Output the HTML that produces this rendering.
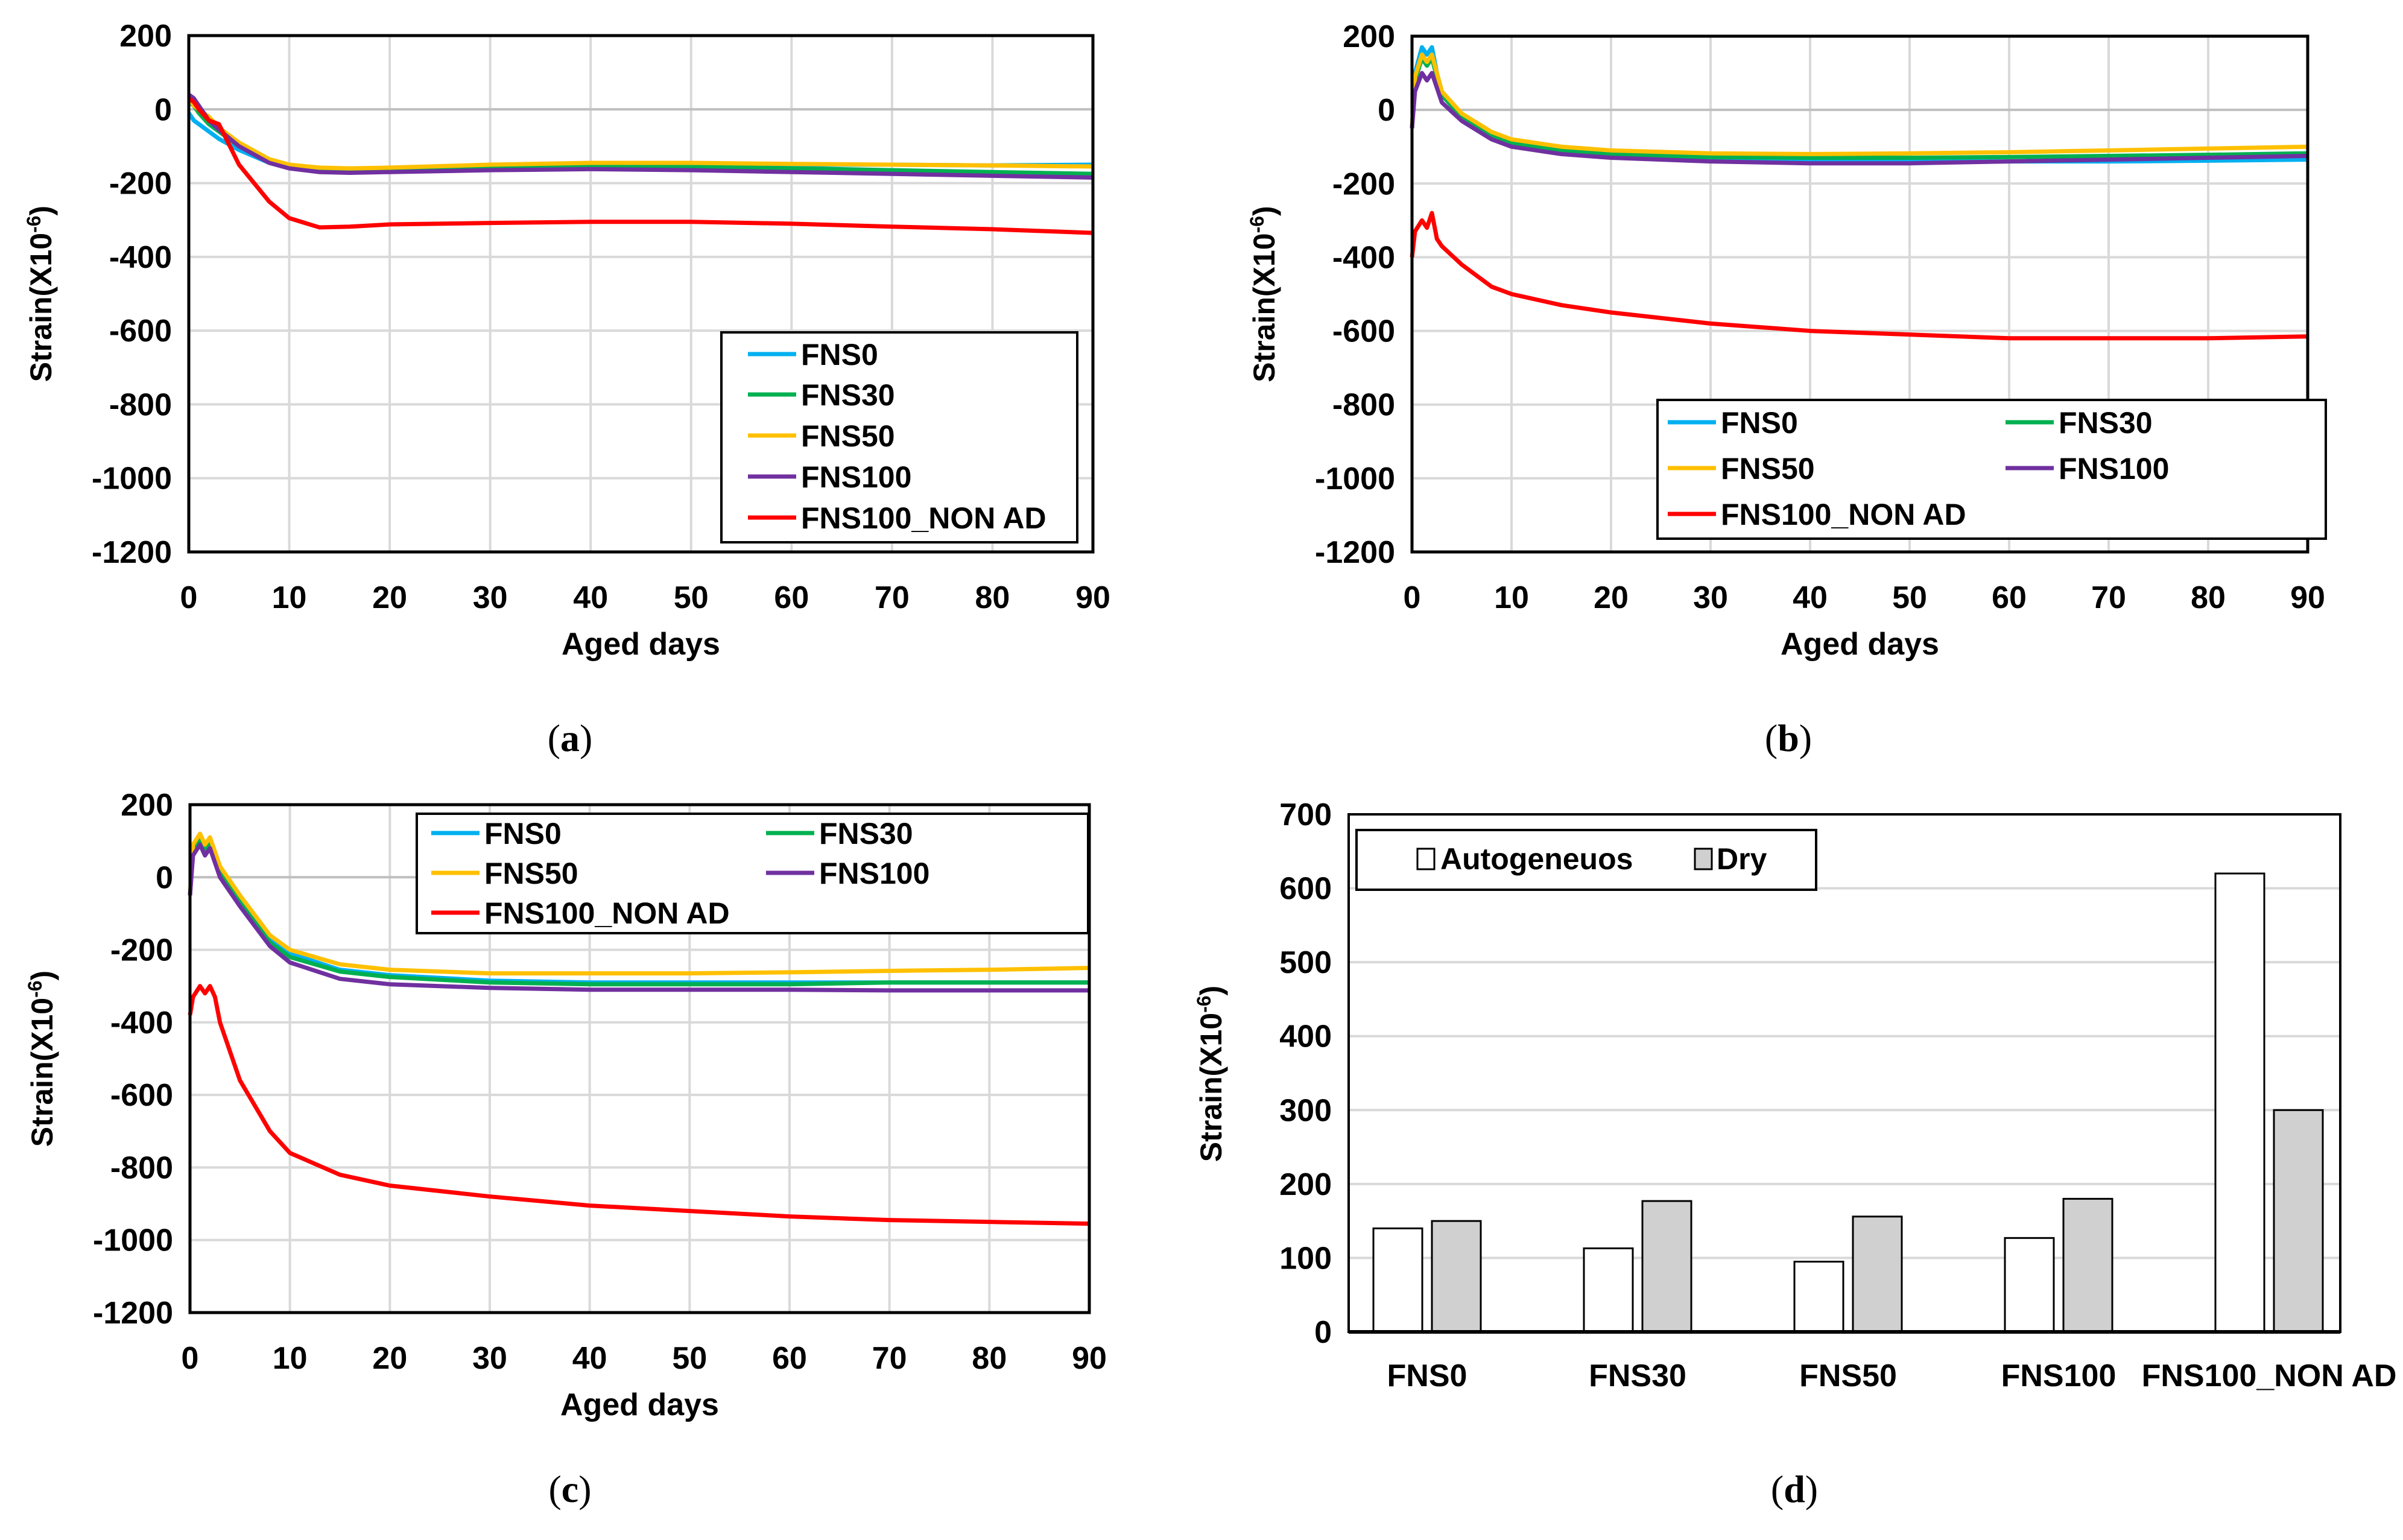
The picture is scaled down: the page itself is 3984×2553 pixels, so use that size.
<!DOCTYPE html>
<html><head><meta charset="utf-8"><style>
html,body{margin:0;padding:0;background:#fff;}
svg{display:block;font-family:"Liberation Sans",sans-serif;}
.tick{font-size:52px;font-weight:bold;fill:#000;}
.ttl{font-size:52px;font-weight:bold;fill:#000;}
.ytl{font-size:50px;font-weight:bold;fill:#000;}
.leg{font-size:50px;font-weight:bold;fill:#000;}
.cap{font-family:"Liberation Serif",serif;font-size:64px;fill:#000;}
</style></head><body>
<svg id="root" width="3984" height="2553" viewBox="0 0 3984 2553" xmlns="http://www.w3.org/2000/svg"></svg>
<script>
// ---- data ----
const seriesNames = ["FNS0","FNS30","FNS50","FNS100","FNS100_NON AD"];
const seriesColors = ["#00b0f0","#00b050","#ffc000","#7030a0","#ff0000"];
const xTicks = [0,10,20,30,40,50,60,70,80,90];
const yTicksLine = [200,0,-200,-400,-600,-800,-1000,-1200];

const daysA = [0,0.5,1,2,3,5,8,10,13,16,20,30,40,50,60,70,80,90];
const aFNS0 = [-10,-30,-40,-60,-80,-110,-145,-155,-160,-160,-160,-155,-150,-150,-150,-150,-152,-150];
const aFNS30 = [20,10,-10,-40,-60,-100,-140,-155,-165,-168,-165,-160,-155,-155,-160,-165,-170,-175];
const aFNS50 = [30,10,0,-20,-50,-90,-135,-150,-158,-160,-158,-150,-145,-145,-148,-150,-152,-155];
const aFNS100 = [40,30,10,-30,-55,-100,-145,-160,-170,-172,-170,-165,-162,-165,-170,-175,-180,-185];
const aNONAD = [30,20,0,-30,-40,-150,-250,-295,-320,-318,-312,-308,-305,-305,-310,-318,-325,-335];

const daysB = [0,0.3,1,1.5,2,2.5,3,5,8,10,15,20,30,40,50,60,70,80,90];
const bFNS0 = [-50,100,170,150,170,100,50,-20,-70,-90,-115,-125,-135,-140,-140,-140,-140,-138,-135];
const bFNS30 = [-50,80,140,120,140,90,40,-20,-70,-90,-110,-120,-128,-130,-130,-128,-125,-122,-118];
const bFNS50 = [-50,90,150,130,150,100,50,-10,-60,-80,-100,-110,-118,-120,-118,-115,-110,-105,-100];
const bFNS100 = [-50,50,100,80,100,60,20,-30,-80,-100,-120,-130,-140,-145,-145,-140,-135,-130,-125];
const bNONAD = [-400,-330,-300,-320,-280,-350,-370,-420,-480,-500,-530,-550,-580,-600,-610,-620,-620,-620,-615];

const daysC = [0,0.3,1,1.5,2,2.5,3,5,8,10,15,20,30,40,50,60,70,80,90];
const cFNS0 = [-50,80,110,80,100,60,20,-60,-170,-210,-255,-270,-285,-290,-290,-290,-290,-290,-290];
const cFNS30 = [-50,70,100,70,90,50,10,-70,-180,-220,-260,-275,-290,-295,-295,-295,-290,-290,-290];
const cFNS50 = [-50,90,120,90,110,70,30,-50,-160,-200,-240,-255,-265,-265,-265,-262,-258,-255,-250];
const cFNS100 = [-50,60,90,60,80,40,0,-80,-190,-235,-280,-295,-305,-310,-310,-310,-312,-312,-312];
const cNONAD = [-380,-330,-300,-320,-300,-330,-400,-560,-700,-760,-820,-850,-880,-905,-920,-935,-945,-950,-955];

const barCategories = ["FNS0","FNS30","FNS50","FNS100","FNS100_NON AD"];
const barAuto = [140,113,95,127,620];
const barDry = [150,177,156,180,300];
const yTicksBar = [0,100,200,300,400,500,600,700];

// ---- helpers ----
const NS="http://www.w3.org/2000/svg";
const root=document.getElementById('root');
function mk(tag,attrs,parent,text){const e=document.createElementNS(NS,tag);for(const k in attrs)e.setAttribute(k,attrs[k]);if(text!==undefined)e.textContent=text;(parent||root).appendChild(e);return e;}

function lineChart(id,box,days,series,legend,cap){
  const g=mk('g',{});
  
  
  const X=v=>box.x0+(v-0)/90*(box.x1-box.x0);
  const Y=v=>box.y0+(200-v)/1400*(box.y1-box.y0);
  xTicks.forEach(t=>{ if(t>0&&t<90){const l=mk('line',{x1:X(t),x2:X(t),y1:box.y0,y2:box.y1,stroke:'#d9d9d9','stroke-width':4},g);
    }});
  yTicksLine.forEach(t=>{ if(t<200&&t>-1200){const l=mk('line',{x1:box.x0,x2:box.x1,y1:Y(t),y2:Y(t),stroke:t===0?'#bfbfbf':'#d9d9d9','stroke-width':4},g);
    }});
  series.forEach((s,i)=>{
    const p=mk('polyline',{points:days.map((d,j)=>X(d)+','+Y(s[j])).join(' '),fill:'none',stroke:seriesColors[i],'stroke-width':7,'stroke-linejoin':'round'},g);
    
    
  });
  const fr=mk('rect',{x:box.x0,y:box.y0,width:box.x1-box.x0,height:box.y1-box.y0,fill:'none',stroke:'#000','stroke-width':5},g);
  
  yTicksLine.forEach(t=>{const e=mk('text',{x:box.x0-28,y:Y(t)+18,'text-anchor':'end',class:'tick'},g,String(t));
    });
  xTicks.forEach(t=>{const e=mk('text',{x:X(t),y:box.y1+93,'text-anchor':'middle',class:'tick'},g,String(t));
    });
  const xt=mk('text',{x:(box.x0+box.x1)/2,y:box.y1+170,'text-anchor':'middle',class:'ttl'},g,'Aged days');
  
  const yc=(box.y0+box.y1)/2;
  const yt=mk('text',{x:0,y:0,'text-anchor':'middle',class:'ytl',transform:`translate(${box.x0-228},${yc}) rotate(-90)`},g);
  
  yt.textContent='Strain(X10';
  mk('tspan',{dy:-18,'font-size':32},yt,'-6');
  mk('tspan',{dy:18},yt,')');
  // legend
  const lg=mk('g',{},g);
  
  mk('rect',{x:legend.x,y:legend.y,width:legend.w,height:legend.h,fill:'#fff',stroke:'#000','stroke-width':4},lg);
  legend.items.forEach((it,i)=>{
    const eg=mk('g',{},lg);
    
    mk('line',{x1:it[0],x2:it[0]+80,y1:it[1],y2:it[1],stroke:seriesColors[i],'stroke-width':7},eg);
    mk('text',{x:it[0]+88,y:it[1]+18,class:'leg'},eg,seriesNames[i]);
  });
  const c=mk('text',{x:cap.x,y:cap.y,'text-anchor':'middle',class:'cap'},g,'');
  
  c.textContent='('; mk('tspan',{'font-weight':'bold'},c,cap.t); mk('tspan',{},c,')');
}

lineChart('a',{x0:313,x1:1812,y0:59,y1:915},daysA,[aFNS0,aFNS30,aFNS50,aFNS100,aNONAD],
 {x:1196,y:551,w:590,h:348,items:[[1240,587],[1240,654],[1240,722],[1240,790],[1240,858]]},{x:945,y:1245,t:'a'});
lineChart('b',{x0:2341,x1:3826,y0:60,y1:915},daysB,[bFNS0,bFNS30,bFNS50,bFNS100,bNONAD],
 {x:2748,y:663,w:1108,h:230,items:[[2765,700],[3325,700],[2765,776],[3325,776],[2765,852]]},{x:2965,y:1245,t:'b'});
lineChart('c',{x0:315,x1:1806,y0:1334,y1:2176},daysC,[cFNS0,cFNS30,cFNS50,cFNS100,cNONAD],
 {x:691,y:1349,w:1113,h:198,items:[[715,1381],[1270,1381],[715,1447],[1270,1447],[715,1513]]},{x:945,y:2490,t:'c'});

// ---- bar chart ----
(function(){
  const box={x0:2236,x1:3880,y0:1350,y1:2208};
  const g=mk('g',{});
  
  const Y=v=>box.y1-v/700*(box.y1-box.y0);
  const center=i=>2366+i*349;
  const bw=81, gap=16;
  yTicksBar.forEach(t=>{ if(t>0&&t<700){const l=mk('line',{x1:box.x0,x2:box.x1,y1:Y(t),y2:Y(t),stroke:'#d9d9d9','stroke-width':4},g);
    }});
  barCategories.forEach((c,i)=>{
    const a=mk('rect',{x:center(i)-gap/2-bw,y:Y(barAuto[i]),width:bw,height:Y(0)-Y(barAuto[i]),fill:'#fff',stroke:'#000','stroke-width':3},g);
    
    const d=mk('rect',{x:center(i)+gap/2,y:Y(barDry[i]),width:bw,height:Y(0)-Y(barDry[i]),fill:'#d0d0d0',stroke:'#000','stroke-width':3},g);
    
    const t=mk('text',{x:center(i),y:box.y1+90,'text-anchor':'middle',class:'tick','font-size':48},g,c);
    
  });
  const fr=mk('rect',{x:box.x0,y:box.y0,width:box.x1-box.x0,height:box.y1-box.y0,fill:'none',stroke:'#000','stroke-width':4},g);
  
  mk('line',{x1:box.x0,x2:box.x1,y1:box.y1,y2:box.y1,stroke:'#000','stroke-width':6},g);
  yTicksBar.forEach(t=>{const e=mk('text',{x:box.x0-28,y:Y(t)+18,'text-anchor':'end',class:'tick'},g,String(t));
    });
  const yt=mk('text',{x:0,y:0,'text-anchor':'middle',class:'ytl',transform:`translate(2025,1780) rotate(-90)`},g);
  
  yt.textContent='Strain(X10'; mk('tspan',{dy:-18,'font-size':32},yt,'-6'); mk('tspan',{dy:18},yt,')');
  const lg=mk('g',{},g);
  
  mk('rect',{x:2249,y:1376,width:762,height:99,fill:'#fff',stroke:'#000','stroke-width':4},lg);
  const e1=mk('g',{},lg);
  mk('rect',{x:2350,y:1407,width:28,height:34,fill:'#fff',stroke:'#000','stroke-width':3},e1);
  mk('text',{x:2388,y:1441,class:'leg','font-size':46},e1,'Autogeneuos');
  const e2=mk('g',{},lg);
  mk('rect',{x:2810,y:1407,width:28,height:34,fill:'#d0d0d0',stroke:'#000','stroke-width':3},e2);
  mk('text',{x:2846,y:1441,class:'leg','font-size':46},e2,'Dry');
  const c=mk('text',{x:2975,y:2490,'text-anchor':'middle',class:'cap'},g,'');
  
  c.textContent='('; mk('tspan',{'font-weight':'bold'},c,'d'); mk('tspan',{},c,')');
})();
</script>
</body></html>
